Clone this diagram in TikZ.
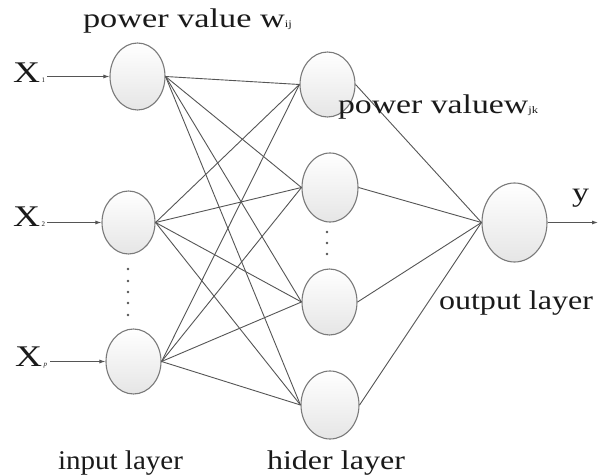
\documentclass[tikz,border=0pt]{standalone}
\usepackage{fontspec}
\setmainfont{Liberation Serif}
\usetikzlibrary{shapes.geometric,arrows.meta}

% stretch a piece of text horizontally to a given width, keeping its height
\newcommand{\stretchto}[2]{\resizebox{#1}{\height}{#2}}
\newcommand{\subtxt}[1]{{\fontsize{10bp}{10bp}\selectfont #1}}
\newcommand{\xin}[1]{\stretchto{27bp}{\fontsize{30bp}{30bp}\selectfont X}\kern1.5bp{\fontsize{7bp}{7bp}\selectfont #1}}

\definecolor{edgegray}{HTML}{555555}
\definecolor{rimgray}{HTML}{7A7A7A}
\definecolor{inkblack}{HTML}{1A1A1A}

\tikzset{
  neuron/.style={ellipse, draw=rimgray, line width=1.1bp, inner sep=0pt,
                 top color=white, bottom color=black!10},
  lbl/.style={anchor=base west, inner sep=0pt, outer sep=0pt, text=inkblack,
              font=\fontsize{27bp}{30bp}\selectfont},
  wire/.style={draw=edgegray, line width=0.9bp},
  feed/.style={draw=edgegray, line width=0.9bp,
               -{Latex[length=6bp,width=4bp]}},
  dot/.style={fill=edgegray}
}

\begin{document}
\begin{tikzpicture}[x=1bp, y=-1bp]
\useasboundingbox (0,0) rectangle (598,476);
\fill[white] (0,0) rectangle (598,476);

% input layer
\node[neuron, minimum width=55bp, minimum height=67bp] (i1) at (137.5,76.5) {};
\node[neuron, minimum width=53bp, minimum height=63bp] (i2) at (128.5,222.5) {};
\node[neuron, minimum width=55bp, minimum height=65bp] (ip) at (133.5,361.5) {};

% hidden layer
\node[neuron, minimum width=55bp, minimum height=65bp] (h1) at (327.5,84.5) {};
\node[neuron, minimum width=56bp, minimum height=69bp] (h2) at (330,187.5) {};
\node[neuron, minimum width=55bp, minimum height=66bp] (h3) at (329.5,302) {};
\node[neuron, minimum width=58bp, minimum height=68bp] (h4) at (330,405) {};

% output layer
\node[neuron, minimum width=65bp, minimum height=79bp] (o) at (514.5,222.5) {};

% weights input -> hidden
\foreach \a in {i1,i2,ip}
  \foreach \b in {h1,h2,h3,h4}
    \draw[wire] (\a.east) -- (\b.west);

% weights hidden -> output
\foreach \b in {h1,h2,h3,h4}
  \draw[wire] (\b.east) -- (o.west);

% inputs
\node[lbl] (x1) at (13,83) {\xin{1}};
\node[lbl] (x2) at (13,227) {\xin{2}};
\node[lbl] (xp) at (15,366) {\xin{\itshape p}};
\coordinate (s1) at (47,76.5);
\coordinate (s2) at (47,222.5);
\coordinate (sp) at (50,361.5);
\draw[feed] (s1) -- (i1.west);
\draw[feed] (s2) -- (i2.west);
\draw[feed] (sp) -- (ip.west);

% output
\coordinate (yend) at (598,222.5);
\draw[feed] (o.east) -- (yend);
\node[lbl] (ylab) at (572,202) {\stretchto{17bp}{y}};

% ellipsis dots
\foreach \yy in {269,281,292,303,315}
  \fill[dot] (128,\yy) circle (1.3bp);
\foreach \yy in {232,243,254}
  \fill[dot] (327,\yy) circle (1.3bp);

% labels
\node[lbl] (wij) at (83,28) {\stretchto{209bp}{power value w\subtxt{ij}}};
\node[lbl] (wjk) at (338,114) {\stretchto{200bp}{power valuew\subtxt{jk}}};
\node[lbl] (outl) at (439,310) {\stretchto{154bp}{output layer}};
\node[lbl] (inl) at (58,469) {\stretchto{125bp}{input layer}};
\node[lbl] (hidl) at (267,469) {\stretchto{138bp}{hider layer}};
\end{tikzpicture}
\end{document}
